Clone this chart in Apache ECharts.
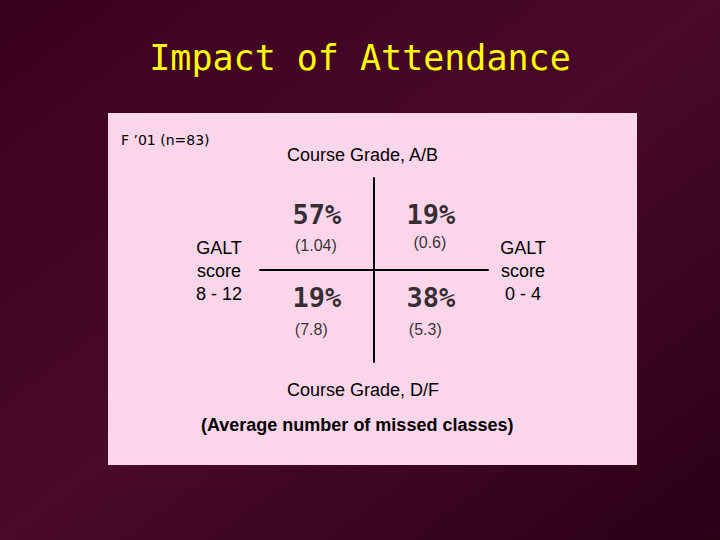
<!DOCTYPE html>
<html><head><meta charset="utf-8">
<script src="https://cdn.jsdelivr.net/npm/echarts@6/dist/echarts.min.js"></script>
<style>html,body{margin:0;padding:0;}#c{width:720px;height:540px;}</style>
</head><body><div id="c"></div>
<script>
var quadrantX = [-0.5, 0.5, -0.5, 0.5];
var quadrantY = [0.6, 0.6, -0.3, -0.3];
var percents = ['57%', '19%', '19%', '38%'];
var missed = ['(1.04)', '(0.6)', '(7.8)', '(5.3)'];
var missedY = [0.27, 0.3, -0.65, -0.65];

var chart = echarts.init(document.getElementById('c'), null, { renderer: 'svg' });
var pctData = percents.map(function (p, i) { return { value: [quadrantX[i], quadrantY[i]], name: p }; });
var subData = missed.map(function (m, i) { return { value: [quadrantX[i] - (i > 1 ? 0.05 : 0.01), missedY[i]], name: m }; });

chart.setOption({
  animation: false,
  backgroundColor: {
    type: 'linear', x: 0, y: 0, x2: 1, y2: 1,
    colorStops: [{ offset: 0, color: '#3a0020' }, { offset: 0.5, color: '#4a0a2a' }, { offset: 1, color: '#2a0016' }]
  },
  graphic: [
    { type: 'rect', shape: { x: 108, y: 113, width: 529, height: 352 }, style: { fill: '#fbd6ea' }, z: -10 },
    { type: 'text', left: 'center', top: 40, style: { text: 'Impact of Attendance', fill: '#ffff00', font: '35px "DejaVu Sans Mono"' } },
    { type: 'text', left: 121, top: 133, style: { text: 'F \u201901 (n=83)', fill: '#000', font: '14px "DejaVu Sans"' } },
    { type: 'text', left: 287, top: 146, style: { text: 'Course Grade, A/B', fill: '#000', font: '18px "Liberation Sans"' } },
    { type: 'text', left: 287, top: 381, style: { text: 'Course Grade, D/F', fill: '#000', font: '18px "Liberation Sans"' } },
    { type: 'text', left: 201, top: 416, style: { text: '(Average number of missed classes)', fill: '#000', font: 'bold 18px "Liberation Sans"' } },
    { type: 'text', x: 219, y: 236, style: { text: 'GALT\nscore\n8 - 12', fill: '#000', font: '18px "Liberation Sans"', align: 'center', lineHeight: 23 } },
    { type: 'text', x: 523, y: 236, style: { text: 'GALT\nscore\n0 - 4', fill: '#000', font: '18px "Liberation Sans"', align: 'center', lineHeight: 23 } }
  ],
  grid: { left: 260, top: 178, width: 228, height: 184 },
  xAxis: { type: 'value', min: -1, max: 1, show: true, axisLine: { onZero: true, lineStyle: { color: '#000', width: 2 } }, axisTick: { show: false }, axisLabel: { show: false }, splitLine: { show: false } },
  yAxis: { type: 'value', min: -1, max: 1, show: true, axisLine: { onZero: true, lineStyle: { color: '#000', width: 2 } }, axisTick: { show: false }, axisLabel: { show: false }, splitLine: { show: false } },
  series: [
    { type: 'scatter', data: pctData, symbolSize: 0,
      label: { show: true, position: 'inside', formatter: '{b}', color: '#000', fontSize: 27, fontFamily: 'DejaVu Sans Mono', fontWeight: 'bold' } },
    { type: 'scatter', data: subData, symbolSize: 0,
      label: { show: true, position: 'inside', formatter: '{b}', color: '#000', fontSize: 16, fontFamily: 'Liberation Sans' } }
  ]
});
</script></body></html>
